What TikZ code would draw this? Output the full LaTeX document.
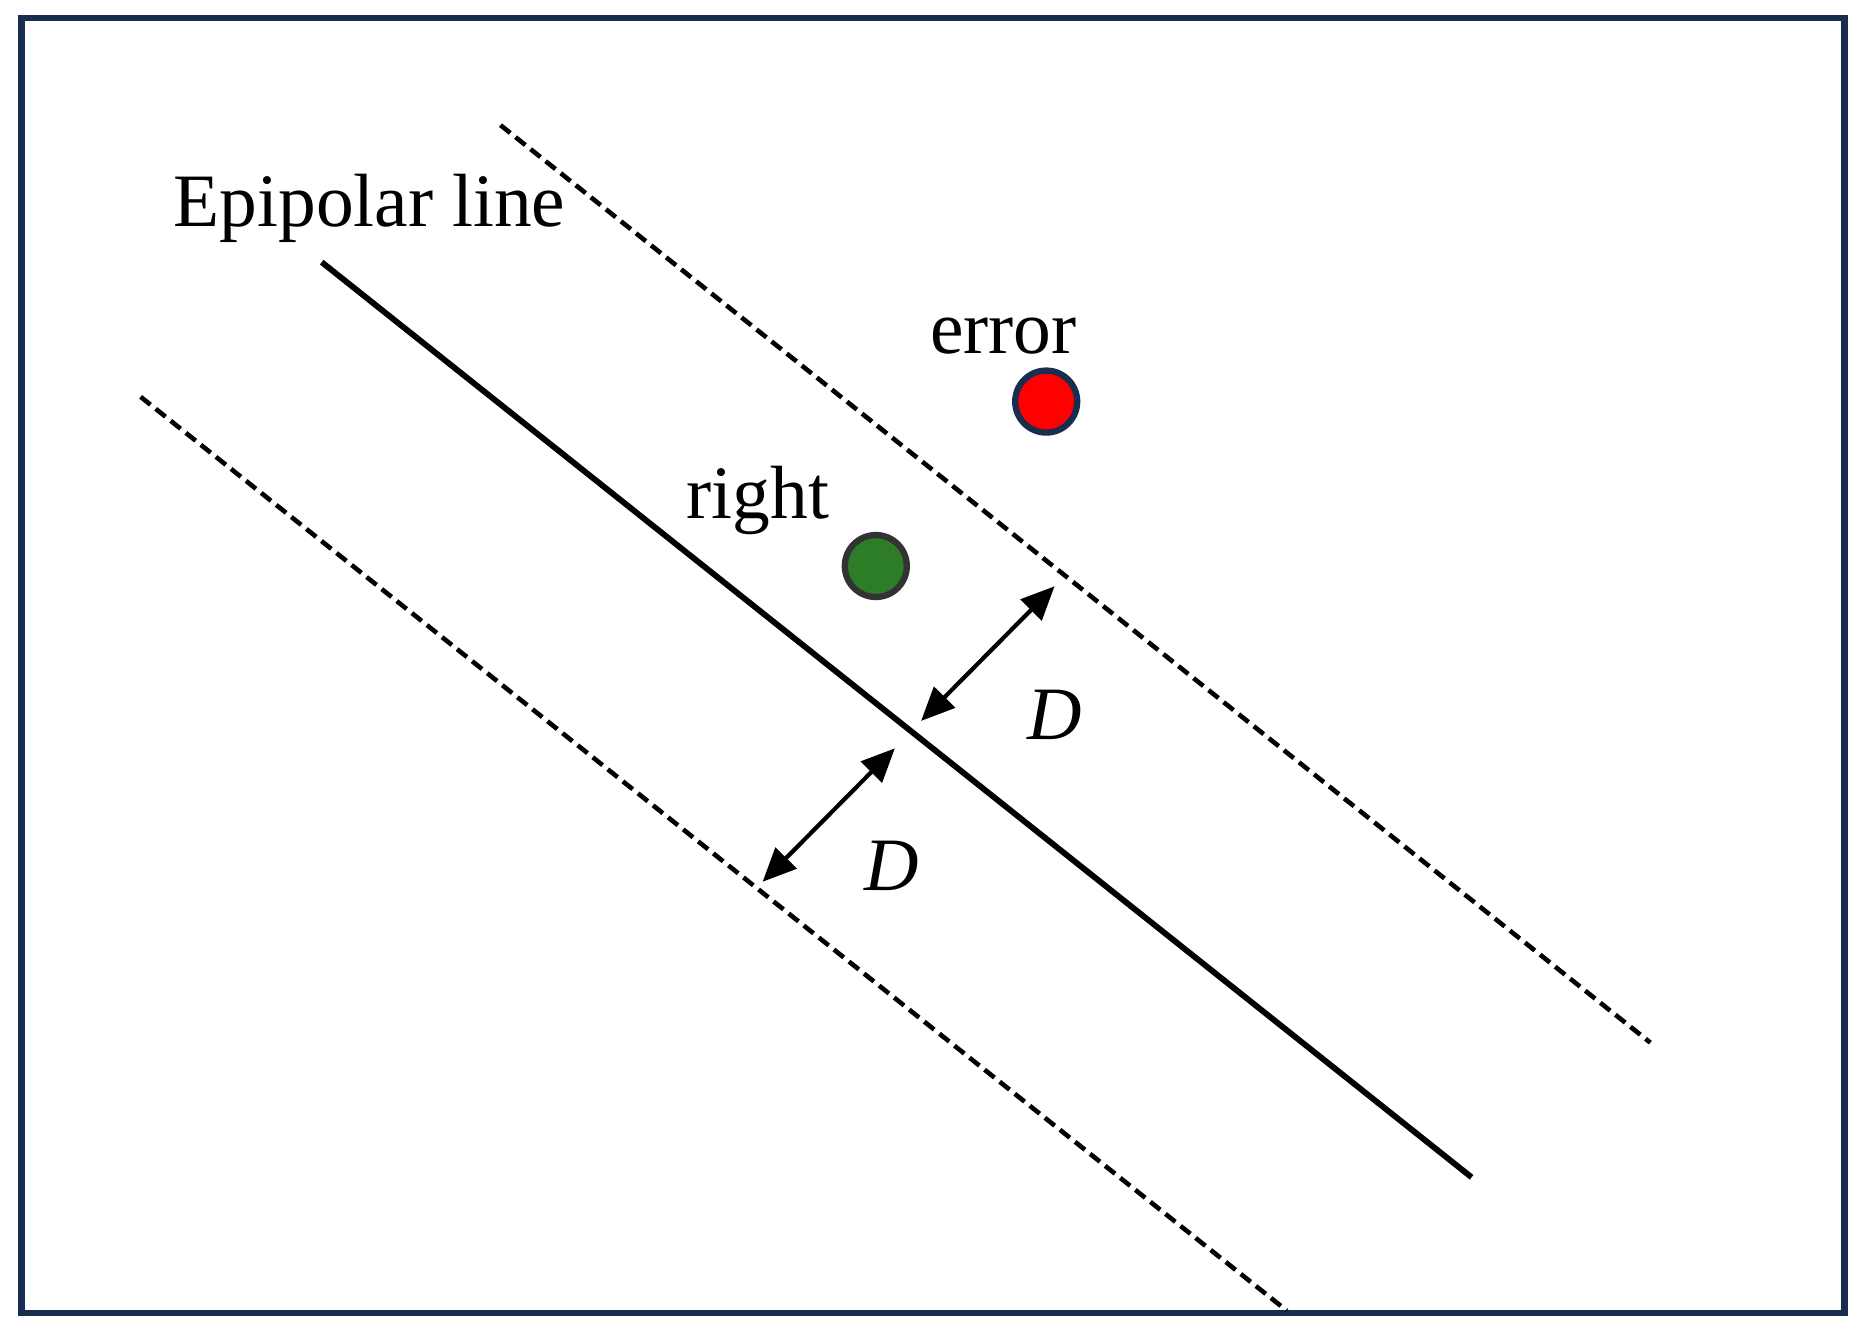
\documentclass[tikz,border=0pt]{standalone}
\usepackage{fontspec}
\setmainfont{Liberation Serif}
\usetikzlibrary{arrows.meta}
\definecolor{navy}{RGB}{25,45,80}
\definecolor{dgreen}{RGB}{45,125,40}
\tikzset{lbl/.style={font=\fontsize{18}{20}\selectfont,inner sep=0pt},
 dline/.style={line width=1.1pt,dash pattern=on 3pt off 1.6pt},
 dimarrow/.style={line width=1pt,{Triangle[length=8pt,width=7pt]}-{Triangle[length=8pt,width=7pt]}}}
\begin{document}
\begin{tikzpicture}[x=0.01cm,y=-0.01cm]
\useasboundingbox (0,0) rectangle (1566,1117);
\draw[navy,line width=1.6pt] (18,15) rectangle (1548,1102);
\coordinate (s1) at (270,220); \coordinate (s2) at (1235,988);
\coordinate (u1) at (420,105); \coordinate (u2) at (1385,875);
\coordinate (l1) at (118,333); \coordinate (l2) at (1080,1100);
\draw[line width=1.4pt] (s1) -- (s2);
\draw[dline] (u1) -- (u2);
\draw[dline] (l1) -- (l2);
\node[circle,fill=red,draw=navy,line width=1.5pt,minimum size=0.52cm,inner sep=0pt] (err) at (878,337) {};
\node[circle,fill=dgreen,draw=black!80,line width=1.5pt,minimum size=0.52cm,inner sep=0pt] (rgt) at (735,475) {};
\node[lbl] (ep) at (310,175) {Epipolar line};
\node[lbl] (et) at (842,282) {error};
\node[lbl] (rt) at (636,420) {right};
\node[lbl] (d1) at (885,600) {\textit{D}};
\node[lbl] (d2) at (748,727) {\textit{D}};
\coordinate (a1) at (885,492); \coordinate (a2) at (773,605);
\coordinate (b1) at (751,628); \coordinate (b2) at (640,740);
\draw[dimarrow] (a1) -- (a2);
\draw[dimarrow] (b1) -- (b2);
\end{tikzpicture}
\end{document}
